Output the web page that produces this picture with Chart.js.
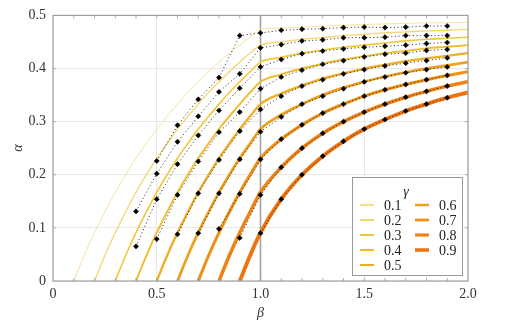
<!DOCTYPE html>
<html>
<head>
<meta charset="utf-8">
<script src="https://cdn.jsdelivr.net/npm/chart.js@4.4.1/dist/chart.umd.min.js"></script>
<style>
  html, body { margin: 0; padding: 0; background: #fff; }
  #wrap { width: 520px; height: 322px; }
</style>
</head>
<body>
<div id="wrap"><canvas id="chart" width="520" height="322"></canvas></div>
<script>
// gamma values (one curve + one marker series each)
const gammas = ['0.1', '0.2', '0.3', '0.4', '0.5', '0.6', '0.7', '0.8', '0.9'];

// beta positions of the solid curves
const betaGrid = [0.10, 0.15, 0.20, 0.25, 0.30, 0.35, 0.40, 0.45, 0.50, 0.55, 0.60, 0.65, 0.70, 0.75,
  0.80, 0.85, 0.90, 0.95, 1.00, 1.1, 1.2, 1.3, 1.4, 1.5, 1.6, 1.7, 1.8, 1.9, 2.0];

// alpha (aligned with betaGrid)
const alpha01 = [0, .048, .091, .130, .167, .200, .231, .259, .286, .310, .333, .355, .375, .394, .412, .429, .444, .459, .474, .476, .478, .480, .481, .483, .484, .485, .486, .486, .487];
const alpha02 = [null, null, 0, .048, .091, .130, .167, .200, .231, .259, .286, .310, .333, .355, .375, .394, .412, .429, .444, .450, .455, .458, .462, .464, .467, .469, .471, .472, .474];
const alpha03 = [null, null, null, null, 0, .048, .091, .130, .167, .200, .231, .259, .286, .310, .333, .355, .375, .394, .412, .421, .429, .435, .440, .444, .448, .452, .455, .457, .459];
const alpha04 = [null, null, null, null, null, null, 0, .048, .091, .130, .167, .200, .231, .259, .286, .310, .333, .355, .375, .389, .400, .409, .417, .423, .429, .433, .438, .441, .444];
const alpha05 = [null, null, null, null, null, null, null, null, 0, .048, .091, .130, .167, .200, .231, .259, .286, .310, .333, .353, .368, .381, .391, .400, .407, .414, .419, .424, .429];
const alpha06 = [null, null, null, null, null, null, null, null, null, null, 0, .048, .091, .130, .167, .200, .231, .259, .286, .313, .333, .350, .364, .375, .385, .393, .400, .406, .412];
const alpha07 = [null, null, null, null, null, null, null, null, null, null, null, null, 0, .048, .091, .130, .167, .200, .231, .267, .294, .316, .333, .348, .360, .370, .379, .387, .394];
const alpha08 = [null, null, null, null, null, null, null, null, null, null, null, null, null, null, 0, .048, .091, .130, .167, .214, .250, .278, .300, .318, .333, .346, .357, .367, .375];
const alpha09 = [null, null, null, null, null, null, null, null, null, null, null, null, null, null, null, null, 0, .048, .091, .154, .200, .235, .263, .286, .304, .320, .333, .345, .355];

// beta positions of the black diamond markers
const betaMarks = [0.4, 0.5, 0.6, 0.7, 0.8, 0.9, 1.0, 1.1, 1.2, 1.3, 1.4, 1.5, 1.6, 1.7, 1.8, 1.9];

// alpha of the markers (aligned with betaMarks)
const sim01 = [null, .226, .293, .342, .383, .462, .467, .472, .474, .475, .477, .478, .477, .478, .480, .480];
const sim02 = [.131, .202, .262, .310, .356, .390, .439, .445, .452, .454, .458, .458, .459, .462, .462, .462];
const sim03 = [.065, .154, .220, .274, .321, .363, .403, .417, .428, .433, .437, .440, .442, .444, .447, .449];
const sim04 = [null, .079, .162, .225, .280, .318, .362, .384, .397, .408, .415, .422, .427, .429, .434, .436];
const sim05 = [null, null, .088, .165, .228, .282, .323, .348, .367, .379, .390, .398, .405, .410, .415, .420];
const sim06 = [null, null, null, .090, .165, .229, .281, .309, .333, .348, .362, .375, .384, .392, .398, .403];
const sim07 = [null, null, null, null, .098, .164, .229, .267, .294, .316, .333, .348, .360, .370, .379, .387];
const sim08 = [null, null, null, null, null, .081, .162, .214, .250, .278, .300, .318, .333, .346, .357, .367];
const sim09 = [null, null, null, null, null, null, .090, .154, .200, .235, .263, .286, .304, .320, .333, .345];

const xTickLabels = ['0', '0.5', '1.0', '1.5', '2.0'];
const yTickLabels = ['0', '0.1', '0.2', '0.3', '0.4', '0.5'];
const betaRef = 1.0;

const curves = [alpha01, alpha02, alpha03, alpha04, alpha05, alpha06, alpha07, alpha08, alpha09];
const sims = [sim01, sim02, sim03, sim04, sim05, sim06, sim07, sim08, sim09];
const curveColors = ['#f6df8a', '#f3d56a', '#f1c83a', '#f0bb2c', '#efad22', '#ef9f1a', '#ef9115', '#ef8212', '#ef730e'];
const curveWidths = [0.9, 1.3, 1.6, 1.9, 2.3, 2.7, 3.1, 3.5, 3.9];

const serif = '"Liberation Serif", "DejaVu Serif", serif';

function toPoints(xs, ys) {
    const out = [];
    xs.forEach(function (x, i) {
        if (ys[i] !== null) out.push({ x: x, y: ys[i] });
    });
    return out;
}

const datasets = [];
sims.forEach(function (s, i) {
    datasets.push({
        label: 'sim ' + gammas[i],
        data: toPoints(betaMarks, s),
        borderColor: '#222',
        borderWidth: 1,
        borderDash: [1, 2.6],
        pointStyle: 'rectRot',
        pointRadius: 2.6,
        pointBackgroundColor: '#000',
        pointBorderColor: '#000',
        pointBorderWidth: 0.5,
        tension: 0,
        order: 0
    });
});
curves.forEach(function (c, i) {
    datasets.push({
        label: gammas[i],
        data: toPoints(betaGrid, c),
        borderColor: curveColors[i],
        borderWidth: curveWidths[i],
        pointRadius: 0,
        cubicInterpolationMode: 'monotone',
        order: 1,
        isCurve: true
    });
});
datasets.push({
    label: 'ref',
    data: [{ x: betaRef, y: 0 }, { x: betaRef, y: 0.5 }],
    borderColor: '#a3a3a3',
    borderWidth: 1.6,
    pointRadius: 0,
    order: 2
});

// frame + small inward ticks like the original
const framePlugin = {
    id: 'frame',
    afterDatasetsDraw(chart) {
        const { ctx, chartArea: a, scales } = chart;
        ctx.save();
        ctx.strokeStyle = '#a0a0a0';
        ctx.lineWidth = 1.2;
        ctx.strokeRect(a.left, a.top, a.right - a.left, a.bottom - a.top);
        ctx.lineWidth = 0.8;
        ctx.strokeStyle = '#999';
        for (let k = 1; k < 20; k++) {
            const x = scales.x.getPixelForValue(k * 0.1);
            ctx.beginPath();
            ctx.moveTo(x, a.bottom); ctx.lineTo(x, a.bottom - 3);
            ctx.moveTo(x, a.top); ctx.lineTo(x, a.top + 3);
            ctx.stroke();
        }
        for (let k = 1; k < 5; k++) {
            const y = scales.y.getPixelForValue(k * 0.1);
            ctx.beginPath();
            ctx.moveTo(a.left, y); ctx.lineTo(a.left + 3, y);
            ctx.moveTo(a.right, y); ctx.lineTo(a.right - 3, y);
            ctx.stroke();
        }
        ctx.restore();
    }
};

// two-column legend with a gamma title, bottom right of the plot
const gammaLegend = {
    id: 'gammaLegend',
    afterDraw(chart) {
        const { ctx, chartArea: a } = chart;
        const items = chart.data.datasets.filter(function (d) { return d.isCurve; });
        const w = 110, h = 98;
        const bx = a.right - 6 - w, by = a.bottom - 6 - h;
        ctx.save();
        ctx.fillStyle = '#fff';
        ctx.fillRect(bx, by, w, h);
        ctx.strokeStyle = '#9a9a9a';
        ctx.lineWidth = 1;
        ctx.strokeRect(bx + 0.5, by + 0.5, w, h);
        ctx.fillStyle = '#222';
        ctx.textBaseline = 'middle';
        ctx.textAlign = 'center';
        ctx.font = 'italic 14px ' + serif;
        ctx.fillText('γ', bx + w / 2 - 1, by + 15);
        ctx.textAlign = 'left';
        ctx.font = '14px ' + serif;
        items.forEach(function (d, i) {
            const col = i < 5 ? 0 : 1;
            const row = i < 5 ? i : i - 5;
            const y = by + 28 + row * 15;
            const lx = bx + (col === 0 ? 8 : 63);
            ctx.strokeStyle = d.borderColor;
            ctx.lineWidth = Math.max(2, d.borderWidth * 0.9);
            ctx.beginPath();
            ctx.moveTo(lx, y); ctx.lineTo(lx + 14, y);
            ctx.stroke();
            ctx.fillText(d.label, lx + 24, y + 1);
        });
        ctx.restore();
    }
};

new Chart(document.getElementById('chart'), {
    type: 'line',
    data: { datasets },
    options: {
        responsive: false,
        animation: false,
        devicePixelRatio: 1,
        layout: { padding: { top: 15, right: 52, left: 0, bottom: 0 } },
        plugins: {
            legend: { display: false },
            tooltip: { enabled: false }
        },
        scales: {
            x: {
                type: 'linear',
                min: 0,
                max: 2,
                afterFit: function (s) { s.height = 41; },
                ticks: {
                    stepSize: 0.5,
                    padding: 5,
                    color: '#333',
                    font: { family: serif, size: 14 },
                    callback: function (v) { return xTickLabels[Math.round(v / 0.5)]; }
                },
                grid: { color: '#e8e8e8', drawTicks: false },
                border: { display: false },
                title: {
                    display: true,
                    text: 'β',
                    color: '#333',
                    padding: { top: 2, bottom: 0 },
                    font: { family: serif, size: 14, style: 'italic' }
                }
            },
            y: {
                min: 0,
                max: 0.5,
                afterFit: function (s) { s.width = 53; },
                ticks: {
                    stepSize: 0.1,
                    padding: 7,
                    color: '#333',
                    font: { family: serif, size: 14 },
                    callback: function (v) { return yTickLabels[Math.round(v / 0.1)]; }
                },
                grid: { color: '#e8e8e8', drawTicks: false },
                border: { display: false },
                title: {
                    display: true,
                    text: 'α',
                    color: '#333',
                    padding: { top: 10, bottom: 0 },
                    font: { family: serif, size: 14, style: 'italic' }
                }
            }
        }
    },
    plugins: [framePlugin, gammaLegend]
});
</script>
</body>
</html>
